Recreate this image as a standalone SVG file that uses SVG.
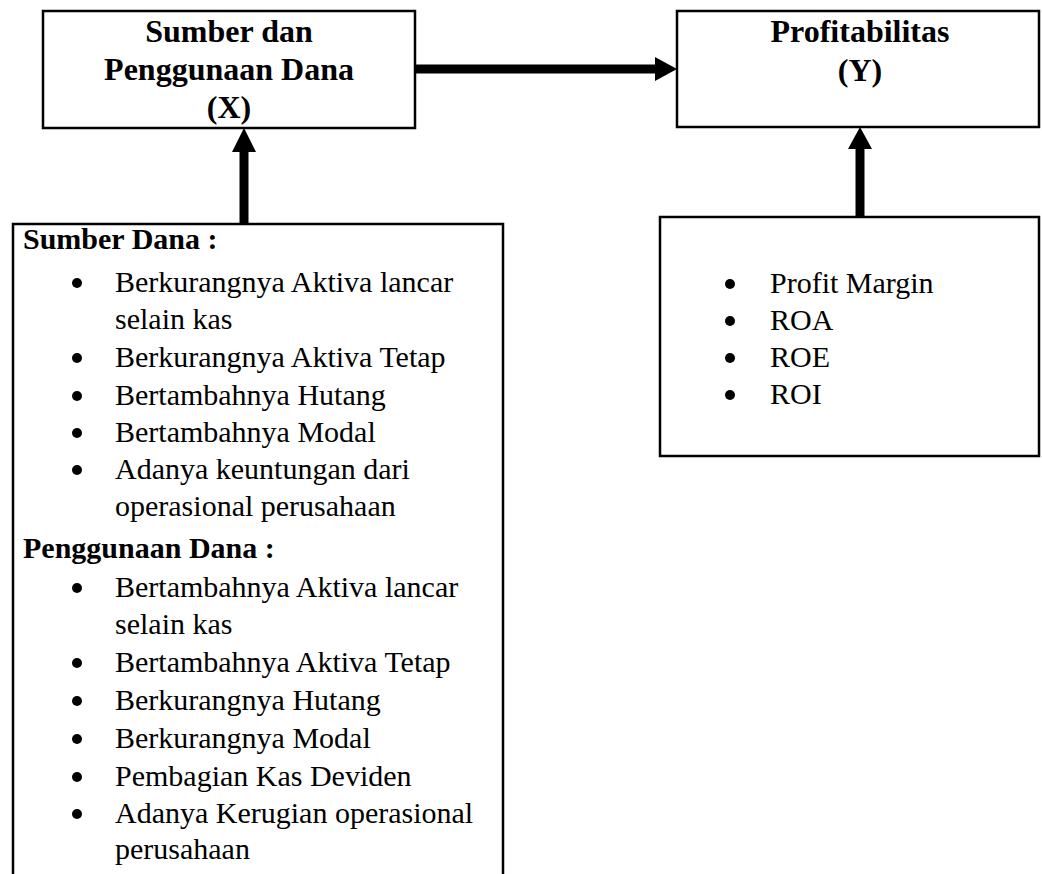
<svg xmlns="http://www.w3.org/2000/svg" width="1042" height="874" viewBox="0 0 1042 874">
<style>
.box{fill:#fff;stroke:#000;stroke-width:2.5}
.t{font-family:"Liberation Serif","Times New Roman",serif;fill:#000}
.hb{font-size:32px;font-weight:bold}
.h{font-size:30px;font-weight:bold}
.i{font-size:30px}
.bul{fill:#000}
.conn{stroke:#000;stroke-width:9;fill:none}
</style>
<rect width="1042" height="874" fill="#fff"/>
<g id="nodeX">
<rect class="box" x="43" y="11" width="372" height="117"/>
<text class="t hb" text-anchor="middle" x="229" y="42">Sumber dan</text>
<text class="t hb" text-anchor="middle" x="229" y="80">Penggunaan Dana</text>
<text class="t hb" text-anchor="middle" x="229" y="118">(X)</text>
</g>
<g id="nodeY">
<rect class="box" x="677" y="11" width="362" height="116"/>
<text class="t hb" text-anchor="middle" x="860" y="42">Profitabilitas</text>
<text class="t hb" text-anchor="middle" x="860" y="81">(Y)</text>
</g>
<g id="nodeSumber">
<rect class="box" x="13" y="224" width="490" height="670"/>
<text class="t h" x="23" y="249">Sumber Dana :</text>
<g class="bul">
<circle cx="77" cy="283" r="5"/><circle cx="77" cy="358" r="5"/><circle cx="77" cy="396" r="5"/><circle cx="77" cy="433" r="5"/><circle cx="77" cy="470" r="5"/>
<circle cx="77" cy="588" r="5"/><circle cx="77" cy="663" r="5"/><circle cx="77" cy="701" r="5"/><circle cx="77" cy="739" r="5"/><circle cx="77" cy="777" r="5"/><circle cx="77" cy="814" r="5"/>
</g>
<text class="t i" x="115" y="292">Berkurangnya Aktiva lancar</text>
<text class="t i" x="115" y="329">selain kas</text>
<text class="t i" x="115" y="367">Berkurangnya Aktiva Tetap</text>
<text class="t i" x="115" y="405">Bertambahnya Hutang</text>
<text class="t i" x="115" y="442">Bertambahnya Modal</text>
<text class="t i" x="115" y="479">Adanya keuntungan dari</text>
<text class="t i" x="115" y="516">operasional perusahaan</text>
<text class="t h" x="23" y="558">Penggunaan Dana :</text>
<text class="t i" x="115" y="597">Bertambahnya Aktiva lancar</text>
<text class="t i" x="115" y="634">selain kas</text>
<text class="t i" x="115" y="672">Bertambahnya Aktiva Tetap</text>
<text class="t i" x="115" y="710">Berkurangnya Hutang</text>
<text class="t i" x="115" y="748">Berkurangnya Modal</text>
<text class="t i" x="115" y="786">Pembagian Kas Deviden</text>
<text class="t i" x="115" y="823">Adanya Kerugian operasional</text>
<text class="t i" x="115" y="859">perusahaan</text>
</g>
<g id="nodeIndikator">
<rect class="box" x="660" y="217" width="379" height="239"/>
<g class="bul">
<circle cx="730" cy="284" r="5"/><circle cx="730" cy="321" r="5"/><circle cx="730" cy="358" r="5"/><circle cx="730" cy="395" r="5"/>
</g>
<text class="t i" x="770" y="293">Profit Margin</text>
<text class="t i" x="770" y="330">ROA</text>
<text class="t i" x="770" y="367">ROE</text>
<text class="t i" x="770" y="404">ROI</text>
</g>
<g id="connectors">
<line class="conn" x1="415" y1="69" x2="658" y2="69"/>
<polygon points="655,57 677,69 655,81" fill="#000"/>
<line class="conn" x1="244" y1="224" x2="244" y2="150"/>
<polygon points="232,152 244,128 256,152" fill="#000"/>
<line class="conn" x1="860" y1="217" x2="860" y2="146"/>
<polygon points="848,149 860,127 872,149" fill="#000"/>
</g>
</svg>
